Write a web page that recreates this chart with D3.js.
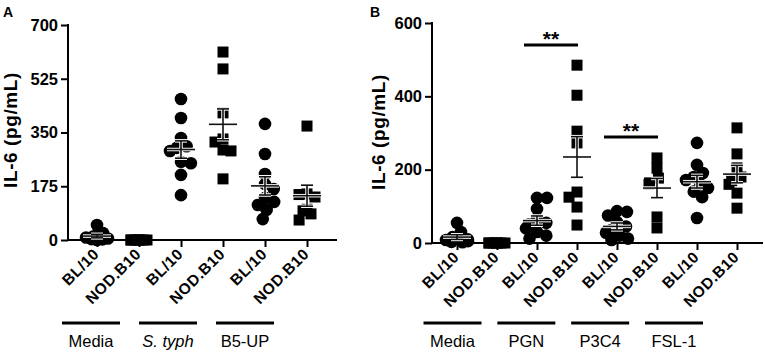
<!DOCTYPE html>
<html>
<head lang="en">
    <meta charset="UTF-8">
    <title>IL-6</title>
    <script src="https://cdn.jsdelivr.net/npm/d3@7/dist/d3.min.js" charset="UTF-8"></script>
    <style>
        body{margin:0;background:#fff;}
        text{font-family:"Liberation Sans",Arial,sans-serif;}
    </style>
</head>
<body>
<script>
    // panel A
    var a_cats=["Media BL/10","Media NOD.B10","S.typh BL/10","S.typh NOD.B10","B5-UP BL/10","B5-UP NOD.B10"];
    var a_strain=["BL/10","NOD.B10","BL/10","NOD.B10","BL/10","NOD.B10"];
    var a_groups=["Media","S. typh","B5-UP"];
    var a_ticks=[0,175,350,525,700];
    var a_values=[
        [49,23,12,8,5,3,2,0],
        [0,0,0,0,0,0,0],
        [459,397,332,305,300,290,255,250,212,146],
        [612,557,414,329,319,293,290,199],
        [378,280,215,182,166,137,124,114,98,68],
        [371,150,148,140,100,95,85,65]
    ];
    // panel B
    var b_cats=["Media BL/10","Media NOD.B10","PGN BL/10","PGN NOD.B10","P3C4 BL/10","P3C4 NOD.B10","FSL-1 BL/10","FSL-1 NOD.B10"];
    var b_strain=["BL/10","NOD.B10","BL/10","NOD.B10","BL/10","NOD.B10","BL/10","NOD.B10"];
    var b_groups=["Media","PGN","P3C4","FSL-1"];
    var b_ticks=[0,200,400,600];
    var b_values=[
        [55,30,16,10,8,5,3,2],
        [0,0,0,0,0,0,0],
        [123,123,93,65,55,50,40,30,20,12],
        [485,403,305,273,139,125,98,49],
        [87,85,75,57,45,35,28,20,12,8],
        [232,204,177,164,160,71,41],
        [273,213,191,180,172,160,150,140,125,68],
        [314,243,205,180,170,160,136,95]
    ];
    var b_sig=[
        {from:"PGN BL/10",to:"PGN NOD.B10",y:540,label:"**"},
        {from:"P3C4 BL/10",to:"P3C4 NOD.B10",y:289,label:"**"}
    ];

    var svg=d3.select("body").append("svg")
            .attr("width",765)
            .attr("height",353);

    // simple dodge so markers spread sideways like a scatter dot plot
    var spill=[-1,1,-0.5,0.5,0];
    function dodge(pys,dia,maxOff){
        var placed=[],nSpill=0;
        var order=d3.range(pys.length).sort(function(a,b){return pys[a]-pys[b];});
        var out=new Array(pys.length);
        order.forEach(function(i){
            var y=pys[i];
            var cands=[0];
            placed.forEach(function(p){
                var dy=Math.abs(p.y-y);
                if(dy<dia){
                    var dx=Math.sqrt(dia*dia-dy*dy);
                    cands.push(p.x+dx,p.x-dx);
                }
            });
            cands.sort(function(a,b){return Math.abs(a)-Math.abs(b);});
            var x=cands.find(function(c){
                return Math.abs(c)<=maxOff&&placed.every(function(p){
                    return (p.x-c)*(p.x-c)+(p.y-y)*(p.y-y)>=dia*dia-0.01;
                });
            });
            if(x===undefined){
                // no free slot left: overlap, cycling across the column
                x=spill[nSpill%spill.length]*maxOff;
                nSpill++;
            }
            placed.push({x:x,y:y});
            out[i]=x;
        });
        return out;
    }

    function panel(cfg){
        var g=svg.append("g");
        var y=d3.scaleLinear().domain(cfg.domain).range([cfg.y0,cfg.y1]);
        var x=d3.scalePoint().domain(cfg.cats).range(cfg.xr);
        var gx=d3.scalePoint().domain(cfg.groups).range(cfg.gr);

        // axes
        var ya=g.append("g")
                .attr("transform","translate("+cfg.ax+",0)")
                .call(d3.axisLeft(y).tickValues(cfg.ticks).tickSize(7).tickPadding(3));
        ya.select(".domain").remove();
        ya.append("line").attr("x1",0).attr("x2",0)
                .attr("y1",y.range()[1]-1).attr("y2",y.range()[0]+1)
                .attr("stroke","#000").attr("stroke-width",2);
        ya.selectAll(".tick line").attr("stroke","#000").attr("stroke-width",2);
        ya.selectAll(".tick text")
                .style("font-size","16.5px").style("font-weight","bold").attr("fill","#000");

        var xa=g.append("g")
                .attr("transform","translate(0,"+cfg.y0+")")
                .call(d3.axisBottom(x).tickSize(7).tickFormat(""));
        xa.select(".domain").remove();
        xa.append("line").attr("x1",cfg.ax).attr("x2",cfg.axEnd)
                .attr("y1",0).attr("y2",0)
                .attr("stroke","#000").attr("stroke-width",2);
        xa.selectAll(".tick line").attr("stroke","#000").attr("stroke-width",2);

        // rotated strain labels
        g.selectAll("text.strain")
                .data(cfg.cats)
                .enter()
                .append("text")
                .attr("class","strain")
                .attr("transform",function(d){return "translate("+(x(d)+3)+","+(cfg.y0+15)+") rotate(-45)";})
                .attr("text-anchor","end")
                .style("font-size","15.5px")
                .style("font-weight","bold")
                .style("letter-spacing","0.5px")
                .text(function(d,i){return cfg.strain[i];});

        // group bars and names
        g.selectAll("line.grp")
                .data(cfg.groups)
                .enter()
                .append("line")
                .attr("x1",function(d){return gx(d)-29;})
                .attr("x2",function(d){return gx(d)+29;})
                .attr("y1",323).attr("y2",323)
                .attr("stroke","#000").attr("stroke-width",3);
        g.selectAll("text.grp")
                .data(cfg.groups)
                .enter()
                .append("text")
                .attr("x",function(d){return gx(d);})
                .attr("y",347)
                .attr("text-anchor","middle")
                .style("font-size","16.5px")
                .style("font-style",function(d){return d==="S. typh"?"italic":"normal";})
                .text(function(d){return d;});

        // y title
        g.append("text")
                .attr("transform","translate("+cfg.titleX+","+cfg.titleY+") rotate(-90)")
                .attr("text-anchor","middle")
                .style("font-size","19px")
                .style("font-weight","bold")
                .style("letter-spacing","0.6px")
                .text("IL-6 (pg/mL)");

        // panel letter
        g.append("text")
                .attr("x",cfg.letterX).attr("y",17)
                .style("font-size","14px").style("font-weight","bold")
                .text(cfg.letter);

        // points
        cfg.cats.forEach(function(c,i){
            var vals=cfg.values[i];
            var isSq=cfg.strain[i]==="NOD.B10";
            var pys=vals.map(function(v){return y(v);});
            var offs=dodge(pys,10,isSq?8:11);
            var pg=g.append("g");
            if(isSq){
                pg.selectAll("rect").data(vals).enter().append("rect")
                        .attr("x",function(d,j){return x(c)+offs[j]-5.5;})
                        .attr("y",function(d){return y(d)-5.5;})
                        .attr("width",11).attr("height",11)
                        .attr("fill","#000");
            }else{
                pg.selectAll("circle").data(vals).enter().append("circle")
                        .attr("cx",function(d,j){return x(c)+offs[j];})
                        .attr("cy",function(d){return y(d);})
                        .attr("r",6.3)
                        .attr("fill","#000");
            }
            // mean +- SEM
            var m=d3.mean(vals);
            var sem=vals.length>1?d3.deviation(vals)/Math.sqrt(vals.length):0;
            if(m>0){
                var eb=g.append("g");
                var segs=[
                    [x(c),y(m+sem),x(c),y(m-sem)],
                    [x(c)-6,y(m+sem),x(c)+6,y(m+sem)],
                    [x(c)-6,y(m-sem),x(c)+6,y(m-sem)],
                    [x(c)-14,y(m),x(c)+14,y(m)]
                ];
                eb.selectAll("line.halo").data(segs).enter().append("line")
                        .attr("x1",function(d){return d[0];}).attr("y1",function(d){return d[1];})
                        .attr("x2",function(d){return d[2];}).attr("y2",function(d){return d[3];})
                        .attr("stroke","#fff").attr("stroke-width",3.5);
                eb.selectAll("line.bar").data(segs).enter().append("line")
                        .attr("x1",function(d){return d[0];}).attr("y1",function(d){return d[1];})
                        .attr("x2",function(d){return d[2];}).attr("y2",function(d){return d[3];})
                        .attr("stroke","#111").attr("stroke-width",1.6);
            }
        });

        // significance
        (cfg.sig||[]).forEach(function(s){
            g.append("line")
                    .attr("x1",x(s.from)-13).attr("x2",x(s.to)+1)
                    .attr("y1",y(s.y)).attr("y2",y(s.y))
                    .attr("stroke","#000").attr("stroke-width",3);
            g.append("text")
                    .attr("x",(x(s.from)-13+x(s.to)+1)/2)
                    .attr("y",y(s.y)+1)
                    .attr("text-anchor","middle")
                    .style("font-size","21px").style("font-weight","bold")
                    .text(s.label);
        });
    }

    panel({
        letter:"A",letterX:3,
        cats:a_cats,strain:a_strain,groups:a_groups,values:a_values,ticks:a_ticks,
        domain:[0,700],y0:240,y1:25,
        ax:68,axEnd:337,xr:[97,307],gr:[91,245],
        titleX:17,titleY:130
    });
    panel({
        letter:"B",letterX:370,
        cats:b_cats,strain:b_strain,groups:b_groups,values:b_values,ticks:b_ticks,
        domain:[0,600],y0:243,y1:23,
        ax:432,axEnd:763,xr:[457,737],gr:[452.5,674],
        titleX:385,titleY:132,
        sig:b_sig
    });
</script>
</body>
</html>
